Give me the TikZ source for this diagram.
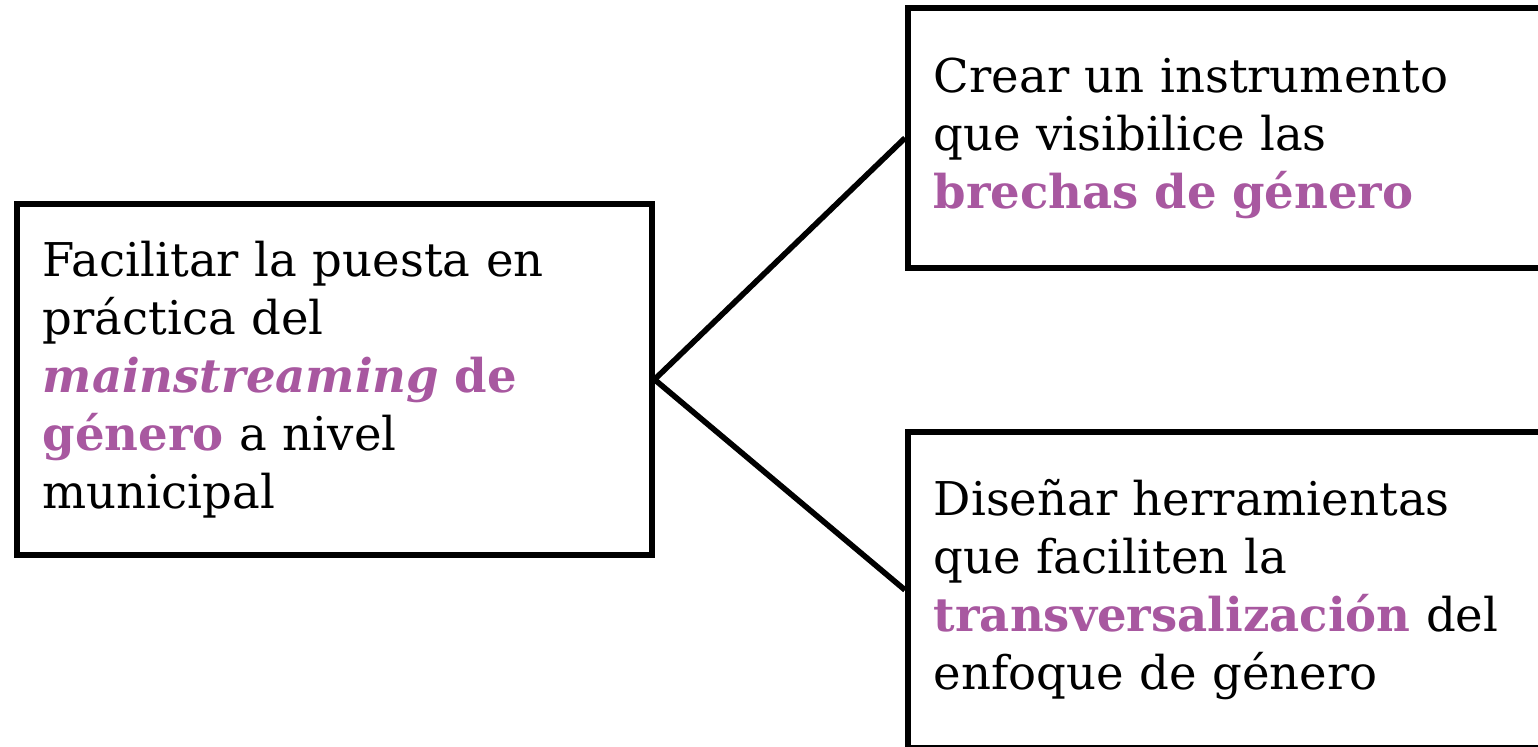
\documentclass[tikz,border=0pt]{standalone}
\usepackage{fontspec}
\setmainfont{DejaVu Serif}
\definecolor{mauve}{RGB}{168,88,160}
\newcommand{\hl}[1]{\textcolor{mauve}{\textbf{#1}}}

\begin{document}
\begin{tikzpicture}[x=0.02cm,y=-0.02cm,line width=3.2pt,
        box/.style={draw,align=left,anchor=west,inner xsep=0.52cm,
            font=\fontsize{26.5}{33}\selectfont}]
            \useasboundingbox (0,0) rectangle (1538,747);

            \node[box,text width=11.66cm,minimum height=7.02cm] (Goal) at (14,379.5) {Facilitar la puesta en\\
                práctica del\\
                \textcolor{mauve}{\textbf{\textit{mainstreaming}}} \hl{de}\\
                \hl{género} a nivel\\
                municipal
            };
            \node[box,text width=12cm,minimum height=5.2cm] (Instrument) at (905,138) {Crear un instrumento\\
                que visibilice las\\
                \hl{brechas de género}
            };
            \node[box,text width=12cm,minimum height=6.32cm] (Tools) at (905,590) {Diseñar herramientas\\
                que faciliten la\\
                \hl{transversalización} del\\
                enfoque de género
            };

            \draw (Goal.east) to (Instrument.west);
            \draw (Goal.east) to (Tools.west);
        \end{tikzpicture}
\end{document}
